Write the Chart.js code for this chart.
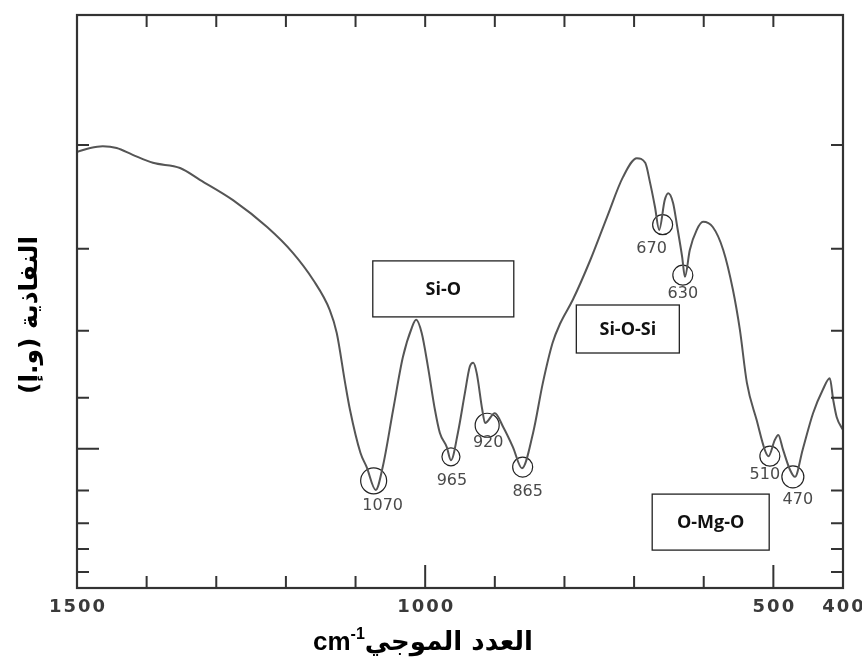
<!DOCTYPE html>
<html>
<head>
<meta charset="utf-8">
<script src="https://cdn.jsdelivr.net/npm/chart.js@4.4.0/dist/chart.umd.min.js"></script>
<style>
  html, body { margin: 0; padding: 0; background: #fff; }
</style>
</head>
<body>
<canvas id="chart" width="862" height="667"></canvas>
<script>
// IR spectrum
const wavenumbers = [1500, 1481, 1463, 1443, 1420, 1391, 1352, 1323, 1276, 1227, 1190, 1161, 1137, 1127, 1115,
  1108, 1093, 1084, 1071, 1061, 1046, 1032, 1019, 1013, 1005, 996, 986, 979, 969, 963, 953, 943, 936, 931, 926,
  918, 914, 900, 888, 874, 861, 845, 831, 817, 806, 788, 763, 739, 716, 696, 684, 677, 670, 664, 656, 651, 644,
  638, 631, 627, 620, 610, 601, 587, 572, 558, 548, 538, 524, 512, 507, 498, 493, 486, 476, 469, 458, 443, 429,
  419, 414, 409, 400];
const transmittance = [76.1, 76.8, 77.1, 76.8, 75.6, 74.2, 73.3, 71.2, 67.7, 63.0, 58.5, 53.8, 48.5, 44.5, 35.8,
  31.1, 23.6, 21.1, 17.1, 21.1, 31.1, 40.3, 45.5, 46.8, 44.5, 38.6, 31.1, 27.1, 24.6, 22.3, 27.1, 34.0, 38.6, 39.3,
  37.5, 31.1, 28.8, 30.5, 28.1, 24.6, 20.9, 27.1, 35.8, 42.8, 46.2, 50.3, 57.2, 64.7, 71.7, 75.0, 74.2, 70.7, 66.5,
  62.5, 67.7, 68.9, 67.2, 63.0, 57.8, 54.3, 59.0, 62.5, 63.9, 63.0, 59.0, 52.0, 45.0, 35.8, 29.3, 24.0, 23.0, 25.8,
  26.7, 24.1, 20.6, 19.4, 24.1, 30.5, 34.6, 36.6, 32.8, 29.8, 27.6];

// circled bands
const peak_labels = ["1070", "965", "920", "865", "670", "630", "510", "470"];
const peak_wavenumbers = [1074, 963, 911, 860, 659, 630, 505, 472];
const peak_levels = [18.7, 22.9, 28.4, 21.1, 63.4, 54.6, 23.0, 19.4];

// boxed assignments
const band_names = ["Si-O", "Si-O-Si", "O-Mg-O"];
const band_wavenumbers = [974, 709, 590];
const band_levels = [52.2, 45.2, 11.5];

const x_ticks = [1500, 1400, 1300, 1200, 1100, 1000, 900, 800, 700, 600, 500, 400];
const x_tick_labels = [1500, 1000, 500, 400];
const y_ticks = [77.3, 59.2, 44.9, 33.2, 24.3, 17.0, 11.3, 6.8, 2.8];

const x_title = "العدد الموجي";
const y_title = "النفاذية (و.إ)";

// drawing constants
const circle_radius = [13, 9, 12, 10, 10, 10, 10, 11];
const label_nudge = [[9, 25], [1, 24], [1, 18], [5, 25], [-11, 24], [0, 19], [-5, 19], [5, 23]];
const box_size = [[141, 56], [103, 48], [117, 56]];

const ink = "#333";

const frame_plugin = {
  id: "frame",
  afterDraw(chart) {
    const ctx = chart.ctx;
    const area = chart.chartArea;
    const xs = chart.scales.x;
    const ys = chart.scales.y;
    ctx.save();

    // boxes
    band_names.forEach((name, i) => {
      const cx = xs.getPixelForValue(band_wavenumbers[i]);
      const cy = ys.getPixelForValue(band_levels[i]);
      const w = box_size[i][0], h = box_size[i][1];
      ctx.fillStyle = "#fff";
      ctx.fillRect(cx - w / 2, cy - h / 2, w, h);
      ctx.strokeStyle = "#222";
      ctx.lineWidth = 1.3;
      ctx.strokeRect(cx - w / 2, cy - h / 2, w, h);
      ctx.fillStyle = "#111";
      ctx.font = "bold 18px 'Open Sans'";
      ctx.textAlign = "center";
      ctx.textBaseline = "middle";
      ctx.fillText(name, cx, cy + 1);
    });

    // peak numbers
    ctx.fillStyle = "#4a4a4a";
    ctx.font = "16px 'DejaVu Sans'";
    ctx.textAlign = "center";
    ctx.textBaseline = "middle";
    peak_labels.forEach((label, i) => {
      const px = xs.getPixelForValue(peak_wavenumbers[i]) + label_nudge[i][0];
      const py = ys.getPixelForValue(peak_levels[i]) + label_nudge[i][1];
      ctx.fillText(label, px, py);
    });

    // frame
    ctx.strokeStyle = ink;
    ctx.lineWidth = 2.2;
    ctx.strokeRect(area.left, area.top, area.right - area.left, area.bottom - area.top);

    ctx.lineWidth = 2;
    ctx.beginPath();
    x_ticks.forEach((v) => {
      if (v == 1500 || v == 400) return;
      const px = xs.getPixelForValue(v);
      const len = x_tick_labels.includes(v) ? 23 : 12;
      ctx.moveTo(px, area.bottom);
      ctx.lineTo(px, area.bottom - len);
      ctx.moveTo(px, area.top);
      ctx.lineTo(px, area.top + 12);
    });
    y_ticks.forEach((v, i) => {
      const py = ys.getPixelForValue(v);
      ctx.moveTo(area.left, py);
      ctx.lineTo(area.left + (i == 4 ? 22 : 12), py);
      ctx.moveTo(area.right, py);
      ctx.lineTo(area.right - 12, py);
    });
    ctx.stroke();

    // x tick labels
    ctx.fillStyle = "#3a3a3a";
    ctx.font = "bold 18px 'DejaVu Sans'";
    ctx.letterSpacing = "2px";
    ctx.textBaseline = "middle";
    x_tick_labels.forEach((v) => {
      ctx.fillText(String(v), xs.getPixelForValue(v) + 1, area.bottom + 19);
    });
    ctx.letterSpacing = "0px";

    // x title: cm-1 then arabic
    ctx.fillStyle = "#000";
    ctx.textBaseline = "alphabetic";
    ctx.textAlign = "left";
    const base = area.bottom + 62;
    ctx.font = "bold 26px 'Liberation Sans'";
    const w_cm = ctx.measureText("cm").width;
    ctx.font = "bold 16px 'Liberation Sans'";
    const w_sup = ctx.measureText("-1").width;
    ctx.font = "bold 26px 'DejaVu Sans'";
    const w_ar = ctx.measureText(x_title).width;
    let x0 = 423 - (w_cm + w_sup + w_ar) / 2;
    ctx.font = "bold 26px 'Liberation Sans'";
    ctx.fillText("cm", x0, base);
    ctx.font = "bold 16px 'Liberation Sans'";
    ctx.fillText("-1", x0 + w_cm, base - 11);
    ctx.font = "bold 26px 'DejaVu Sans'";
    ctx.direction = "rtl";
    ctx.textAlign = "right";
    ctx.fillText(x_title, x0 + w_cm + w_sup + w_ar, base);

    // y title
    ctx.translate(30, 315);
    ctx.rotate(-Math.PI / 2);
    ctx.font = "bold 25px 'DejaVu Sans'";
    ctx.textAlign = "center";
    ctx.textBaseline = "middle";
    ctx.fillText(y_title, 0, 0);
    ctx.restore();
  },
};

new Chart(document.getElementById("chart"), {
  type: "line",
  data: {
    datasets: [
      {
        data: wavenumbers.map((w, i) => ({ x: w, y: transmittance[i] })),
        borderColor: "#555",
        borderWidth: 2,
        pointRadius: 0,
        cubicInterpolationMode: "monotone",
        fill: false,
      },
      {
        type: "scatter",
        data: peak_wavenumbers.map((w, i) => ({ x: w, y: peak_levels[i] })),
        pointStyle: "circle",
        pointRadius: circle_radius,
        pointBackgroundColor: "rgba(0,0,0,0)",
        pointBorderColor: "#222",
        pointBorderWidth: 1.2,
        showLine: false,
      },
    ],
  },
  options: {
    responsive: false,
    animation: false,
    layout: {
      padding: { left: 77, right: 19, top: 15, bottom: 79 },
    },
    plugins: {
      legend: { display: false },
      tooltip: { enabled: false },
    },
    scales: {
      x: { type: "linear", min: 400, max: 1500, reverse: true, display: false },
      y: { type: "linear", min: 0, max: 100, display: false },
    },
  },
  plugins: [frame_plugin],
});
</script>
</body>
</html>
